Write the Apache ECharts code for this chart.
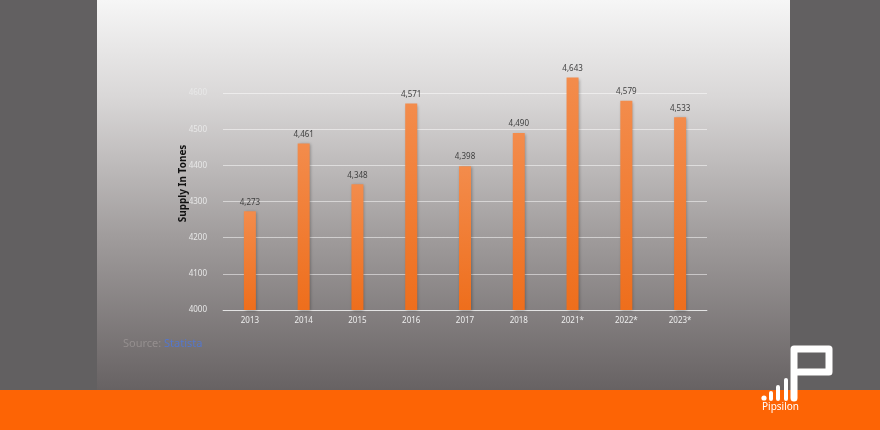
<!DOCTYPE html>
<html><head><meta charset="utf-8">
<script src="https://cdn.jsdelivr.net/npm/echarts@6/dist/echarts.min.js"></script>
<style>html,body{margin:0;padding:0;background:#626061}#c{width:880px;height:430px}</style>
</head><body><div id="c"></div>
<script>
const categories = ['2013','2014','2015','2016','2017','2018','2021*','2022*','2023*'];
const supply = [4273, 4461, 4348, 4571, 4398, 4490, 4643, 4579, 4533];
const yMin = 4000, yMax = 4700, yStep = 100;
const yTitle = 'Supply In Tones';
const sourceLabel = 'Source:';
const sourceName = 'Statista';
const brand = 'Pipsilon';

const chart = echarts.init(document.getElementById('c'));
const font = 'Noto Sans';
const gridCol = 'rgba(255,255,255,0.5)';
chart.setOption({
  backgroundColor: '#626061',
  animation: false,
  grid: {left: 223, right: 173, top: 57, bottom: 120},
  xAxis: {
    type: 'category', data: categories,
    axisLine: {show: true, lineStyle: {color: 'rgba(255,255,255,0.55)', width: 1}},
    axisTick: {show: false},
    axisLabel: {color: '#eeeeee', fontSize: 8, fontFamily: font, margin: 7}
  },
  yAxis: {
    type: 'value', min: yMin, max: yMax, interval: yStep,
    name: yTitle, nameLocation: 'middle', nameGap: 35, nameMoveOverlap: false,
    nameTextStyle: {color: '#111', fontSize: 10, fontFamily: font, fontWeight: 'bold'},
    axisLine: {show: false}, axisTick: {show: false},
    axisLabel: {color: '#e8e8e8', fontSize: 8, fontFamily: font, margin: 16, showMaxLabel: false,
      formatter: v => String(v)},
    splitLine: {lineStyle: {color: [gridCol, gridCol, gridCol, gridCol, gridCol, gridCol, gridCol, 'rgba(0,0,0,0)'], width: 1}}
  },
  series: [{
    type: 'bar', data: supply, barWidth: 12,
    itemStyle: {
      color: new echarts.graphic.LinearGradient(0,0,0,1,[{offset:0,color:'#f38c4c'},{offset:1,color:'#ee6e1c'}]),
      shadowBlur: 3, shadowColor: 'rgba(0,0,0,0.3)', shadowOffsetX: 1, shadowOffsetY: 1
    },
    label: {show: true, position: 'top', distance: 5, color: '#404040', fontSize: 8, fontFamily: font,
      formatter: p => p.value.toLocaleString('en-US')}
  }],
  graphic: [
    {type: 'rect', z: -10, silent: true, shape: {x: 97, y: 0, width: 693, height: 390},
      style: {fill: new echarts.graphic.LinearGradient(0,0,0,1,[
        {offset:0,color:'#f6f6f6'},{offset:0.25,color:'#d9d7d7'},{offset:0.6,color:'#a19d9d'},{offset:1,color:'#676263'}])}},
    {type: 'rect', z: -10, silent: true, shape: {x: 0, y: 390, width: 880, height: 40}, style: {fill: '#fd6405'}},
    {type: 'text', z: 10, left: 123, top: 338, style: {text: sourceLabel, fill: '#958f8f', fontSize: 11, fontFamily: font}},
    {type: 'text', z: 10, left: 164, top: 338, style: {text: sourceName, fill: '#5577cc', fontSize: 11, fontFamily: font}},
    // logo
    {type: 'polyline', z: 20, shape: {points: [[794,398],[794,349],[829,349],[829,372],[799,372]]},
      style: {stroke: '#fff', lineWidth: 7, fill: null, lineJoin: 'round', lineCap: 'round'}},
    {type: 'circle', z: 20, shape: {cx: 764, cy: 398, r: 2.6}, style: {fill: '#fff'}},
    {type: 'line', z: 20, shape: {x1: 771, y1: 393, x2: 771, y2: 399}, style: {stroke: '#fff', lineWidth: 4, lineCap: 'round'}},
    {type: 'line', z: 20, shape: {x1: 778, y1: 387, x2: 778, y2: 399}, style: {stroke: '#fff', lineWidth: 4, lineCap: 'round'}},
    {type: 'line', z: 20, shape: {x1: 786, y1: 380, x2: 786, y2: 399}, style: {stroke: '#fff', lineWidth: 4, lineCap: 'round'}},
    {type: 'text', z: 20, left: 762, top: 402, style: {text: brand, fill: '#fff', fontSize: 10, fontFamily: font}}
  ]
});
</script></body></html>
